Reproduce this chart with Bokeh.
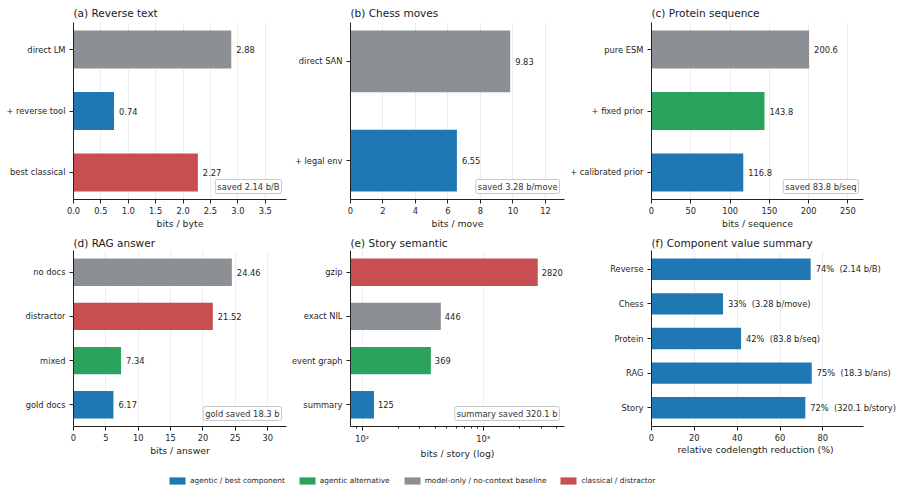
from bokeh.plotting import figure
from bokeh.models import (ColumnDataSource, Range1d, FixedTicker, Label, Title,
                          Legend, LegendItem, NumeralTickFormatter)
from bokeh.layouts import row, column
from bokeh.embed import file_html
from bokeh.resources import INLINE

BLUE = "#1f77b4"
GREEN = "#2ca25f"
GRAY = "#8c8f93"
RED = "#c84e52"
FONT = "DejaVu Sans"
TXT = "#262626"

# ---------------- data ----------------
rev_cats = ["direct LM", "+ reverse tool", "best classical"]
rev_vals = [2.88, 0.74, 2.27]
rev_cols = [GRAY, BLUE, RED]
rev_ticks = [0, 0.5, 1.0, 1.5, 2.0, 2.5, 3.0, 3.5]

chess_cats = ["direct SAN", "+ legal env"]
chess_vals = [9.83, 6.55]
chess_cols = [GRAY, BLUE]
chess_ticks = [0, 2, 4, 6, 8, 10, 12]

prot_cats = ["pure ESM", "+ fixed prior", "+ calibrated prior"]
prot_vals = [200.6, 143.8, 116.8]
prot_cols = [GRAY, GREEN, BLUE]
prot_ticks = [0, 50, 100, 150, 200, 250]

rag_cats = ["no docs", "distractor", "mixed", "gold docs"]
rag_vals = [24.46, 21.52, 7.34, 6.17]
rag_cols = [GRAY, RED, GREEN, BLUE]
rag_ticks = [0, 5, 10, 15, 20, 25, 30]

story_cats = ["gzip", "exact NIL", "event graph", "summary"]
story_vals = [2820, 446, 369, 125]
story_cols = [RED, GRAY, GREEN, BLUE]
story_ticks = [100, 1000]
story_minor = [90, 200, 300, 400, 500, 600, 700, 800, 900, 2000, 3000, 4000]
story_tick_labels = {100: "10²", 1000: "10³"}

sum_cats = ["Reverse", "Chess", "Protein", "RAG", "Story"]
sum_pct = [74.3, 33.4, 41.8, 74.8, 71.8]
sum_saved = ["2.14 b/B", "3.28 b/move", "83.8 b/seq", "18.3 b/ans", "320.1 b/story"]
sum_ticks = [0, 20, 40, 60, 80]

legend_labels = ["agentic / best component", "agentic alternative",
                 "model-only / no-context baseline", "classical / distractor"]
legend_colors = [BLUE, GREEN, GRAY, RED]

# ---------------- layout geometry ----------------
COLS = [(288, 73, 2), (277, 62, 1), (338, 86, 40)]
ROWS = [(231, 22, 30, 7), (230, 19, 32, 4)]


def panel(col, rw, title, cats, vals, cols, xlabel, ticks, labels, note=None,
          xmax=None, log=False, xlo=None, tick_fmt=None, minor=None, overrides=None,
          extend_right=0, xlabel_offset=None):
    w, bl, br = COLS[col]
    h, bt, bb, tstand = ROWS[rw]
    n = len(cats)
    pad = 0.05 * (n - 1 + 0.62)
    yr = Range1d(n - 1 + 0.31 + pad, -0.31 - pad)
    fw_axis = w - bl - br
    br_eff = br - extend_right
    fw_frame = w - bl - br_eff
    if log:
        xr = Range1d(xlo, xmax)
        p = figure(width=w, height=h, x_range=xr, y_range=yr, x_axis_type="log",
                   output_backend="svg", toolbar_location=None, tools="")
    else:
        xr = Range1d(0, xmax * fw_frame / fw_axis)
        p = figure(width=w, height=h, x_range=xr, y_range=yr,
                   output_backend="svg", toolbar_location=None, tools="")
    p.min_border_left = bl
    p.min_border_right = br_eff
    p.min_border_top = bt
    p.min_border_bottom = bb
    p.outline_line_color = None
    p.background_fill_color = "white"
    p.border_fill_color = "white"

    ys = list(range(n))
    src = ColumnDataSource(dict(y=ys, v=vals, c=cols,
                                left=[xlo if log else 0] * n))
    p.hbar(y="y", left="left", right="v", height=0.62, fill_color="c",
           line_color=None, source=src)
    for yy, vv, lab in zip(ys, vals, labels):
        p.add_layout(Label(x=vv, y=yy, text=lab, x_offset=4 if log else 5,
                           text_baseline="middle", text_align="left",
                           text_font=FONT, text_font_size="8.3px",
                           text_color=TXT))

    p.title.text = title
    p.title.text_font = FONT
    p.title.text_font_size = "10.5px"
    p.title.text_font_style = "normal"
    p.title.text_color = "#1a1a1a"
    p.title.standoff = tstand
    p.title.offset = 0

    p.ygrid.visible = False
    p.xgrid.grid_line_color = "#e8e8e8"
    p.xgrid.grid_line_width = 0.8

    ya = p.yaxis[0]
    ya.ticker = FixedTicker(ticks=ys)
    ya.major_label_overrides = {i: c for i, c in enumerate(cats)}
    ya.major_tick_out = 4
    ya.major_tick_in = 0
    ya.major_label_standoff = 4

    xa = p.xaxis[0]
    xa.ticker = FixedTicker(ticks=ticks, minor_ticks=minor or [])
    if not log and extend_right:
        xa.bounds = (0, xmax)
    if tick_fmt:
        xa.formatter = NumeralTickFormatter(format=tick_fmt)
    if overrides:
        xa.major_label_overrides = overrides
    xa.major_tick_out = 4
    xa.major_tick_in = 0
    xa.minor_tick_out = 2
    xa.minor_tick_in = 0
    xa.major_label_standoff = 3
    if xlabel_offset is None:
        xa.axis_label = xlabel
        xa.axis_label_standoff = 1
        xa.axis_label_text_font = FONT
        xa.axis_label_text_font_size = "9.3px"
        xa.axis_label_text_font_style = "normal"
        xa.axis_label_text_color = TXT
    else:
        p.add_layout(Title(text=xlabel, align="left", offset=xlabel_offset,
                           vertical_align="top", standoff=0, text_font=FONT,
                           text_font_size="9.3px", text_font_style="normal",
                           text_color=TXT), "below")

    for ax in (xa, ya):
        ax.major_label_text_font = FONT
        ax.major_label_text_font_size = "8.3px"
        ax.major_label_text_color = TXT
        ax.axis_line_color = "#222222"
        ax.major_tick_line_color = "#222222"
        ax.minor_tick_line_color = "#222222" if (ax is xa and minor) else None

    if note:
        p.add_layout(Label(x=fw_axis - 5, y=6, x_units="screen", y_units="screen",
                           text=note, text_align="right", text_baseline="bottom",
                           text_font=FONT, text_font_size="8.3px", text_color="#333333",
                           background_fill_color="white", border_line_color="#c8c8c8",
                           border_line_width=1, padding=2, border_radius=2))
    return p


pa = panel(0, 0, "(a) Reverse text", rev_cats, rev_vals, rev_cols, "bits / byte",
           rev_ticks, [f"{v:.2f}" for v in rev_vals], note="saved 2.14 b/B",
           xmax=max(rev_vals) * 1.35, tick_fmt="0.0")
pb = panel(1, 0, "(b) Chess moves", chess_cats, chess_vals, chess_cols, "bits / move",
           chess_ticks, [f"{v:.2f}" for v in chess_vals], note="saved 3.28 b/move",
           xmax=max(chess_vals) * 1.34)
pc = panel(2, 0, "(c) Protein sequence", prot_cats, prot_vals, prot_cols, "bits / sequence",
           prot_ticks, [f"{v:.1f}" for v in prot_vals], note="saved 83.8 b/seq",
           xmax=max(prot_vals) * 1.345)
pd = panel(0, 1, "(d) RAG answer", rag_cats, rag_vals, rag_cols, "bits / answer",
           rag_ticks, [f"{v:.2f}" for v in rag_vals], note="gold saved 18.3 b",
           xmax=max(rag_vals) * 1.345)
pe = panel(1, 1, "(e) Story semantic", story_cats, story_vals, story_cols, "bits / story (log)",
           story_ticks, [f"{v:d}" for v in story_vals], note="summary saved 320.1 b",
           xmax=4690, log=True, xlo=80, minor=story_minor, overrides=story_tick_labels)
pf = panel(2, 1, "(f) Component value summary", sum_cats, sum_pct, [BLUE] * len(sum_cats),
           "relative codelength reduction (%)", sum_ticks,
           [f"{p:.0f}%\u00a0 ({s})" for p, s in zip(sum_pct, sum_saved)],
           xmax=max(sum_pct) * 1.323, extend_right=38, xlabel_offset=26)

# ---------------- legend strip ----------------
lf = figure(width=903, height=30, x_range=Range1d(0, 1), y_range=Range1d(0, 1),
            x_axis_location=None, y_axis_location=None, output_backend="svg",
            toolbar_location=None, tools="")
lf.min_border_left = 0
lf.min_border_right = 0
lf.min_border_top = 0
lf.min_border_bottom = 0
lf.outline_line_color = None
lf.xgrid.visible = False
lf.ygrid.visible = False
items = []
for lab, colr in zip(legend_labels, legend_colors):
    r = lf.hbar(y=[0], left=[0], right=[0], height=0, fill_color=colr, line_color=None)
    items.append(LegendItem(label=lab, renderers=[r]))
leg = Legend(items=items, orientation="horizontal", location=(167, 6),
             glyph_width=20, glyph_height=9, label_height=9, label_standoff=3,
             spacing=12, padding=0, margin=0, border_line_color=None,
             background_fill_alpha=0, label_text_font=FONT,
             label_text_font_size="7.4px", label_text_color=TXT)
lf.add_layout(leg, "center")

layout = column(row(pa, pb, pc, spacing=0), row(pd, pe, pf, spacing=0), lf, spacing=0)

open("out.html", "w").write(file_html(layout, INLINE))
